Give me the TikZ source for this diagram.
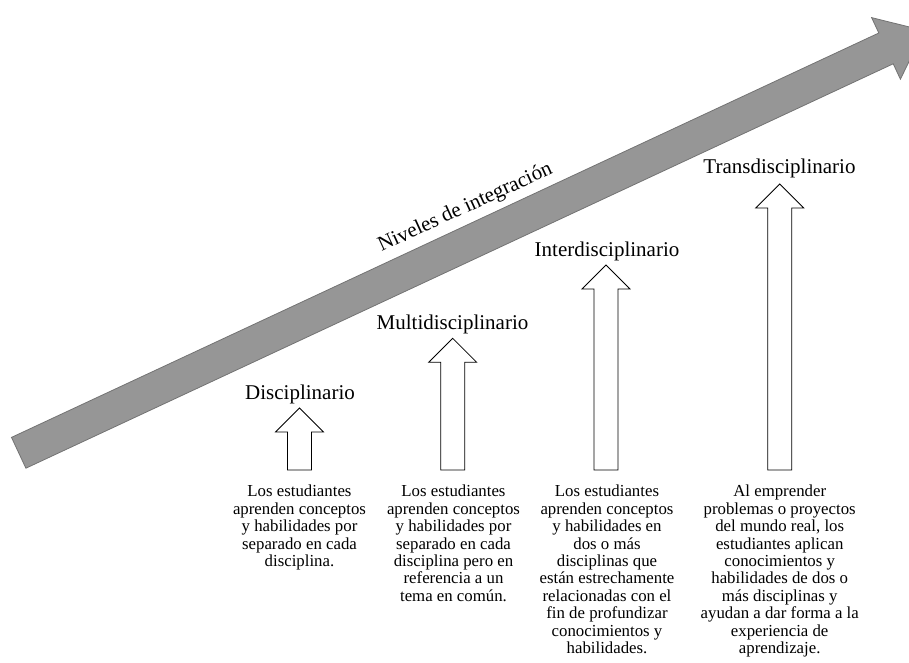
\documentclass[tikz,border=0pt]{standalone}
\usepackage{fontspec}
\setmainfont{Liberation Serif}
\definecolor{bandfill}{RGB}{150,150,150}
\definecolor{banddraw}{RGB}{115,115,115}
\begin{document}
\begin{tikzpicture}[x=1pt,y=-1pt,
  band/.style={fill=bandfill,draw=banddraw,line width=0.8pt,line join=miter},
  uparrow/.style={fill=white,draw=black,line width=0.8pt,line join=miter},
  level/.style={font=\fontsize{21}{24}\selectfont,anchor=base,inner sep=0pt},
  blurb/.style={font=\fontsize{16.8}{17.4}\selectfont,align=center,anchor=north,inner sep=0pt}]
\useasboundingbox (0,0) rectangle (909,663);
\clip (0,0) rectangle (909,663);

% rising band arrow
\draw[band] (11.5,437.4) -- (878.8,33.0) -- (871.6,17.6) -- (924.1,30.65)
  -- (900.4,79.2) -- (893.2,63.8) -- (25.9,468.2) -- cycle;
\node[font=\fontsize{21}{24}\selectfont,anchor=base,inner sep=0pt,rotate=24.7]
  (band) at (467.5,212.5) {Niveles de integración};

% block arrow: centre x, tip y, bottom y
\newcommand{\levelarrow}[3]{%
  \draw[uparrow] (#1-12,#3) -- (#1-12,#2+24) -- (#1-24,#2+24) -- (#1,#2)
    -- (#1+24,#2+24) -- (#1+12,#2+24) -- (#1+12,#3) -- cycle;}
\levelarrow{299.5}{408}{470}
\levelarrow{452.7}{338.3}{470}
\levelarrow{606}{265}{470}
\levelarrow{779.7}{184}{470}

\node[level] (l1) at (300,399.6) {Disciplinario};
\node[level] (l2) at (452.5,329.5) {Multidisciplinario};
\node[level] (l3) at (607,256) {Interdisciplinario};
\node[level] (l4) at (779.5,173.4) {Transdisciplinario};

\node[blurb] (t1) at (299.5,485) {Los estudiantes\\aprenden conceptos\\y habilidades por\\separado en cada\\disciplina.};
\node[blurb] (t2) at (453.5,485) {Los estudiantes\\aprenden conceptos\\y habilidades por\\separado en cada\\disciplina pero en\\referencia a un\\tema en común.};
\node[blurb] (t3) at (607,485) {Los estudiantes\\aprenden conceptos\\y habilidades en\\dos o más\\disciplinas que\\están estrechamente\\relacionadas con el\\fin de profundizar\\conocimientos y\\habilidades.};
\node[blurb] (t4) at (779.7,485) {Al emprender\\problemas o proyectos\\del mundo real, los\\estudiantes aplican\\conocimientos y\\habilidades de dos o\\más disciplinas y\\ayudan a dar forma a la\\experiencia de\\aprendizaje.};
\end{tikzpicture}
\end{document}
